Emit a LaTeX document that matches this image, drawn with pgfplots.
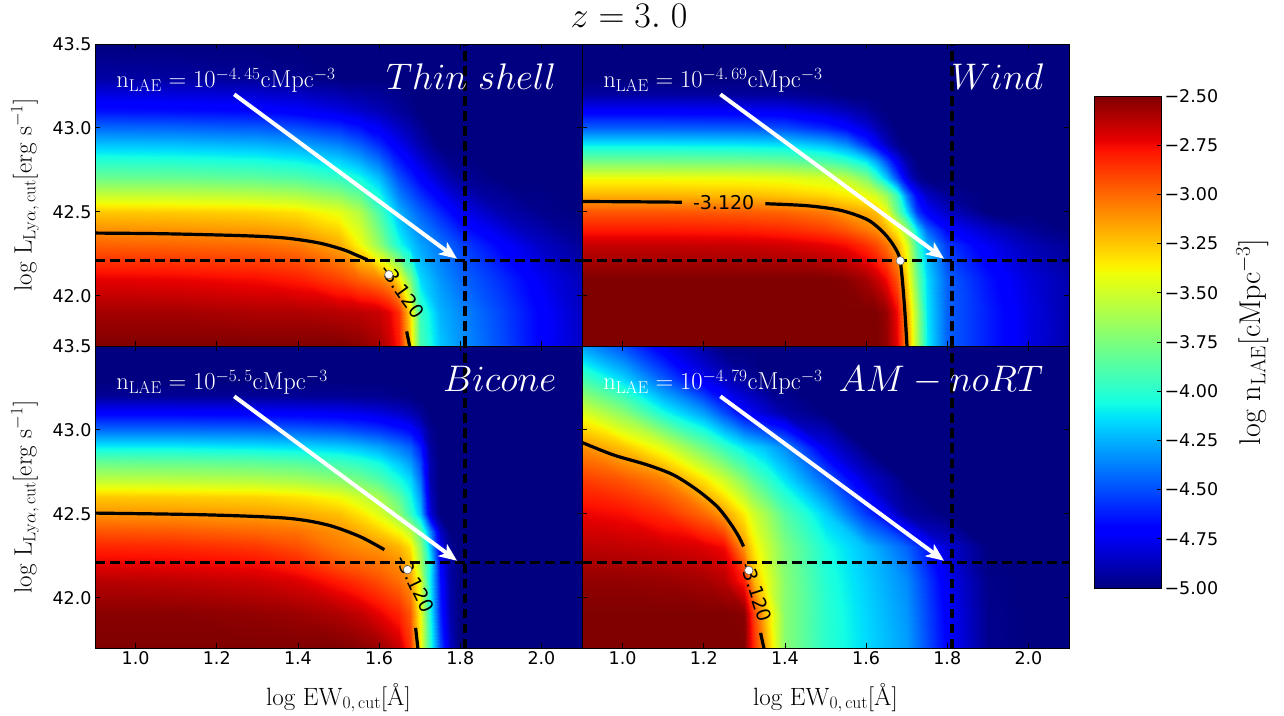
\RequirePackage{fix-cm}
\documentclass[border=0pt]{standalone}
\usepackage{fontspec}
\usepackage{pgfplots}
\pgfplotsset{compat=1.18}
\usetikzlibrary{arrows.meta}
\newfontfamily\dejavu{DejaVu Sans}
\newcommand\tickfont{\dejavu\fontsize{17.5}{20}\selectfont}
\newcommand\labfont{\fontsize{25}{30}\selectfont}
\newcommand\nfont{\fontsize{24.5}{28}\selectfont}
\newcommand\mfont{\fontsize{37}{42}\selectfont}
\newcommand\clfont{\dejavu\fontsize{19}{22}\selectfont}
\pgfplotsset{
  colormap={mpljet}{rgb(0pt)=(0,0,0.5) rgb(22pt)=(0,0,1) rgb(25pt)=(0,0,1) rgb(68pt)=(0,0.86,1) rgb(70pt)=(0,0.9,0.97) rgb(75pt)=(0.08,1,0.89) rgb(128pt)=(0.94,1,0.03) rgb(130pt)=(0.97,0.96,0) rgb(132pt)=(1,0.93,0) rgb(178pt)=(1,0.07,0) rgb(182pt)=(0.91,0,0) rgb(200pt)=(0.5,0,0)},
  mypanel/.style={
    anchor=south west, scale only axis, width=487pt, height=302pt,
    xmin=0.9, xmax=2.1, ymin=41.7, ymax=43.5,
    point meta min=-5, point meta max=-2.5,
    axis on top, tick align=inside, major tick length=5pt,
    tick style={black, line width=0.8pt},
    axis line style={line width=0.9pt},
    xtick={1.0,1.2,1.4,1.6,1.8,2.0}, ytick={42.0,42.5,43.0,43.5},
    xticklabels={1.0,1.2,1.4,1.6,1.8,2.0}, yticklabels={42.0,42.5,43.0,43.5},
    tick label style={font=\tickfont},
    every axis x label/.style={at={(axis description cs:0.5,-0.189)}, anchor=base, font=\labfont},
    every axis y label/.style={at={(axis description cs:-0.144,0.5)}, rotate=90, anchor=center, font=\labfont},
    xlabel={$\mathrm{log\ EW_{0,\,cut}}[\mbox{Å}]$},
    ylabel={$\mathrm{log\ L_{Ly\alpha,\,cut}[erg\ s^{-1}]}$},
  },
  myheat/.style={surf, shader=interp, point meta=explicit, mesh/cols=#1},
  mycont/.style={black, line width=3.2pt, smooth},
  mydash/.style={black, line width=3.4pt, dash pattern=on 9.5pt off 5.5pt},
  myarr/.style={white, line width=4pt, -{Stealth[length=18pt,width=15pt,inset=5pt]}},
  mydot/.style={only marks, mark=*, mark size=4.2pt, mark options={fill=white, draw=black!60, line width=0.6pt}},
}
\begin{document}
\begin{tikzpicture}
\useasboundingbox (0,0) rectangle (1284pt,715pt);
\node[anchor=base, font=\fontsize{36}{40}\selectfont, inner sep=0pt] at (629pt,687pt) {$z=3.\;0$};

% ---------------- Thin shell ----------------
\begin{axis}[mypanel, at={(95pt,369pt)}, xticklabels={}, xlabel={}]
\addplot[myheat=16] table[row sep=\\, x=x, y=y, meta=v] {
x y v\\
0.9 41.7 -2.50\\1.1 41.7 -2.50\\1.3 41.7 -2.50\\1.4 41.7 -2.50\\1.5 41.7 -2.50\\1.55 41.7 -2.52\\1.6 41.7 -2.58\\1.625 41.7 -2.66\\1.65 41.7 -2.80\\1.675 41.7 -3.25\\1.7 41.7 -3.90\\1.75 41.7 -4.20\\1.8 41.7 -4.32\\1.9 41.7 -4.50\\2.0 41.7 -4.70\\2.1 41.7 -4.85\\
0.9 41.9 -2.58\\1.1 41.9 -2.58\\1.3 41.9 -2.60\\1.4 41.9 -2.60\\1.5 41.9 -2.62\\1.55 41.9 -2.63\\1.6 41.9 -2.66\\1.625 41.9 -2.72\\1.65 41.9 -2.85\\1.675 41.9 -3.30\\1.7 41.9 -3.95\\1.75 41.9 -4.25\\1.8 41.9 -4.35\\1.9 41.9 -4.52\\2.0 41.9 -4.70\\2.1 41.9 -4.86\\
0.9 42.1 -2.72\\1.1 42.1 -2.73\\1.3 42.1 -2.76\\1.4 42.1 -2.80\\1.5 42.1 -2.90\\1.55 42.1 -2.98\\1.6 42.1 -3.06\\1.625 42.1 -3.14\\1.65 42.1 -3.35\\1.675 42.1 -3.75\\1.7 42.1 -4.15\\1.75 42.1 -4.32\\1.8 42.1 -4.43\\1.9 42.1 -4.58\\2.0 42.1 -4.75\\2.1 42.1 -4.88\\
0.9 42.3 -2.98\\1.1 42.3 -2.99\\1.3 42.3 -3.01\\1.4 42.3 -3.05\\1.5 42.3 -3.17\\1.55 42.3 -3.38\\1.6 42.3 -3.68\\1.625 42.3 -3.88\\1.65 42.3 -4.05\\1.675 42.3 -4.18\\1.7 42.3 -4.28\\1.75 42.3 -4.40\\1.8 42.3 -4.52\\1.9 42.3 -4.70\\2.0 42.3 -4.85\\2.1 42.3 -4.95\\
0.9 42.5 -3.25\\1.1 42.5 -3.26\\1.3 42.5 -3.28\\1.4 42.5 -3.32\\1.5 42.5 -3.43\\1.55 42.5 -3.58\\1.6 42.5 -3.90\\1.625 42.5 -4.08\\1.65 42.5 -4.25\\1.675 42.5 -4.36\\1.7 42.5 -4.45\\1.75 42.5 -4.60\\1.8 42.5 -4.75\\1.9 42.5 -4.90\\2.0 42.5 -4.97\\2.1 42.5 -5.00\\
0.9 42.7 -3.80\\1.1 42.7 -3.81\\1.3 42.7 -3.84\\1.4 42.7 -3.88\\1.5 42.7 -3.97\\1.55 42.7 -4.06\\1.6 42.7 -4.22\\1.625 42.7 -4.36\\1.65 42.7 -4.50\\1.675 42.7 -4.60\\1.7 42.7 -4.70\\1.75 42.7 -4.85\\1.8 42.7 -4.95\\1.9 42.7 -5.00\\2.0 42.7 -5.00\\2.1 42.7 -5.00\\
0.9 42.9 -4.20\\1.1 42.9 -4.21\\1.3 42.9 -4.24\\1.4 42.9 -4.28\\1.5 42.9 -4.36\\1.55 42.9 -4.45\\1.6 42.9 -4.58\\1.625 42.9 -4.67\\1.65 42.9 -4.75\\1.675 42.9 -4.83\\1.7 42.9 -4.90\\1.75 42.9 -5.00\\1.8 42.9 -5.00\\1.9 42.9 -5.00\\2.0 42.9 -5.00\\2.1 42.9 -5.00\\
0.9 43.1 -4.65\\1.1 43.1 -4.66\\1.3 43.1 -4.68\\1.4 43.1 -4.72\\1.5 43.1 -4.78\\1.55 43.1 -4.83\\1.6 43.1 -4.88\\1.625 43.1 -4.91\\1.65 43.1 -4.94\\1.675 43.1 -4.97\\1.7 43.1 -5.00\\1.75 43.1 -5.00\\1.8 43.1 -5.00\\1.9 43.1 -5.00\\2.0 43.1 -5.00\\2.1 43.1 -5.00\\
0.9 43.3 -4.92\\1.1 43.3 -4.93\\1.3 43.3 -4.95\\1.4 43.3 -4.97\\1.5 43.3 -5.00\\1.55 43.3 -5.00\\1.6 43.3 -5.00\\1.625 43.3 -5.00\\1.65 43.3 -5.00\\1.675 43.3 -5.00\\1.7 43.3 -5.00\\1.75 43.3 -5.00\\1.8 43.3 -5.00\\1.9 43.3 -5.00\\2.0 43.3 -5.00\\2.1 43.3 -5.00\\
0.9 43.5 -5.00\\1.1 43.5 -5.00\\1.3 43.5 -5.00\\1.4 43.5 -5.00\\1.5 43.5 -5.00\\1.55 43.5 -5.00\\1.6 43.5 -5.00\\1.625 43.5 -5.00\\1.65 43.5 -5.00\\1.675 43.5 -5.00\\1.7 43.5 -5.00\\1.75 43.5 -5.00\\1.8 43.5 -5.00\\1.9 43.5 -5.00\\2.0 43.5 -5.00\\2.1 43.5 -5.00\\
};
\addplot[mycont] coordinates {(0.9,42.373) (1.069,42.369) (1.27,42.357) (1.371,42.343) (1.452,42.314) (1.512,42.274) (1.542,42.244) (1.571,42.214)};
\addplot[mycont] coordinates {(1.668,41.787) (1.676,41.69)};
\node[font=\clfont, rotate=-54, inner sep=0pt] at (axis cs:1.658,42.027) {-3.120};
\addplot[mydash] coordinates {(0.9,42.21) (2.1,42.21)};
\addplot[mydash] coordinates {(1.812,41.7) (1.812,43.5)};
\addplot[mydot] coordinates {(1.624,42.125)};
\addplot[myarr] coordinates {(1.243,43.2) (1.792,42.22)};
\node[white, anchor=base west, font=\nfont, inner sep=0pt] at (axis cs:0.952,43.238) {$\mathrm{n_{LAE}=10^{-4.\,45}cMpc^{-3}}$};
\node[white, anchor=base east, font=\mfont, inner sep=0pt] at (axis cs:2.037,43.226) {$Thin\ shell$};
\end{axis}

% ---------------- Wind ----------------
\begin{axis}[mypanel, at={(582pt,369pt)}, xticklabels={}, xlabel={}, yticklabels={}, ylabel={}]
\addplot[myheat=17] table[row sep=\\, x=x, y=y, meta=v] {
x y v\\
0.9 41.7 -2.50\\1.1 41.7 -2.50\\1.3 41.7 -2.50\\1.4 41.7 -2.50\\1.5 41.7 -2.50\\1.55 41.7 -2.50\\1.6 41.7 -2.50\\1.625 41.7 -2.50\\1.65 41.7 -2.54\\1.675 41.7 -2.72\\1.7 41.7 -3.10\\1.725 41.7 -3.62\\1.75 41.7 -4.10\\1.8 41.7 -4.45\\1.9 41.7 -4.62\\2.0 41.7 -4.78\\2.1 41.7 -4.90\\
0.9 41.9 -2.50\\1.1 41.9 -2.50\\1.3 41.9 -2.50\\1.4 41.9 -2.50\\1.5 41.9 -2.50\\1.55 41.9 -2.50\\1.6 41.9 -2.50\\1.625 41.9 -2.50\\1.65 41.9 -2.55\\1.675 41.9 -2.75\\1.7 41.9 -3.15\\1.725 41.9 -3.65\\1.75 41.9 -4.12\\1.8 41.9 -4.45\\1.9 41.9 -4.62\\2.0 41.9 -4.78\\2.1 41.9 -4.90\\
0.9 42.1 -2.50\\1.1 42.1 -2.50\\1.3 42.1 -2.50\\1.4 42.1 -2.50\\1.5 42.1 -2.50\\1.55 42.1 -2.52\\1.6 42.1 -2.58\\1.625 42.1 -2.65\\1.65 42.1 -2.75\\1.675 42.1 -2.95\\1.7 42.1 -3.30\\1.725 42.1 -3.80\\1.75 42.1 -4.15\\1.8 42.1 -4.45\\1.9 42.1 -4.65\\2.0 42.1 -4.80\\2.1 42.1 -4.90\\
0.9 42.3 -2.65\\1.1 42.3 -2.65\\1.3 42.3 -2.66\\1.4 42.3 -2.68\\1.5 42.3 -2.72\\1.55 42.3 -2.76\\1.6 42.3 -2.85\\1.625 42.3 -2.92\\1.65 42.3 -3.02\\1.675 42.3 -3.18\\1.7 42.3 -3.45\\1.725 42.3 -3.95\\1.75 42.3 -4.25\\1.8 42.3 -4.55\\1.9 42.3 -4.75\\2.0 42.3 -4.88\\2.1 42.3 -4.95\\
0.9 42.4 -2.80\\1.1 42.4 -2.80\\1.3 42.4 -2.81\\1.4 42.4 -2.84\\1.5 42.4 -2.90\\1.55 42.4 -2.96\\1.6 42.4 -3.05\\1.625 42.4 -3.10\\1.65 42.4 -3.20\\1.675 42.4 -3.38\\1.7 42.4 -3.70\\1.725 42.4 -4.15\\1.75 42.4 -4.45\\1.8 42.4 -4.70\\1.9 42.4 -4.85\\2.0 42.4 -4.95\\2.1 42.4 -5.00\\
0.9 42.5 -2.95\\1.1 42.5 -2.95\\1.3 42.5 -2.97\\1.4 42.5 -2.99\\1.5 42.5 -3.05\\1.55 42.5 -3.13\\1.6 42.5 -3.18\\1.625 42.5 -3.22\\1.65 42.5 -3.40\\1.675 42.5 -3.80\\1.7 42.5 -4.15\\1.725 42.5 -4.55\\1.75 42.5 -4.72\\1.8 42.5 -4.85\\1.9 42.5 -5.00\\2.0 42.5 -5.00\\2.1 42.5 -5.00\\
0.9 42.6 -3.20\\1.1 42.6 -3.20\\1.3 42.6 -3.22\\1.4 42.6 -3.25\\1.5 42.6 -3.30\\1.55 42.6 -3.35\\1.6 42.6 -3.42\\1.625 42.6 -3.50\\1.65 42.6 -3.65\\1.675 42.6 -3.95\\1.7 42.6 -4.40\\1.725 42.6 -4.70\\1.75 42.6 -4.85\\1.8 42.6 -4.95\\1.9 42.6 -5.00\\2.0 42.6 -5.00\\2.1 42.6 -5.00\\
0.9 42.7 -3.40\\1.1 42.7 -3.40\\1.3 42.7 -3.41\\1.4 42.7 -3.43\\1.5 42.7 -3.48\\1.55 42.7 -3.55\\1.6 42.7 -3.73\\1.625 42.7 -3.95\\1.65 42.7 -4.18\\1.675 42.7 -4.50\\1.7 42.7 -4.80\\1.725 42.7 -4.95\\1.75 42.7 -5.00\\1.8 42.7 -5.00\\1.9 42.7 -5.00\\2.0 42.7 -5.00\\2.1 42.7 -5.00\\
0.9 42.8 -3.78\\1.1 42.8 -3.78\\1.3 42.8 -3.79\\1.4 42.8 -3.82\\1.5 42.8 -3.90\\1.55 42.8 -3.98\\1.6 42.8 -4.12\\1.625 42.8 -4.28\\1.65 42.8 -4.50\\1.675 42.8 -4.75\\1.7 42.8 -4.92\\1.725 42.8 -5.00\\1.75 42.8 -5.00\\1.8 42.8 -5.00\\1.9 42.8 -5.00\\2.0 42.8 -5.00\\2.1 42.8 -5.00\\
0.9 42.9 -4.10\\1.1 42.9 -4.10\\1.3 42.9 -4.11\\1.4 42.9 -4.13\\1.5 42.9 -4.22\\1.55 42.9 -4.32\\1.6 42.9 -4.55\\1.625 42.9 -4.70\\1.65 42.9 -4.85\\1.675 42.9 -4.96\\1.7 42.9 -5.00\\1.725 42.9 -5.00\\1.75 42.9 -5.00\\1.8 42.9 -5.00\\1.9 42.9 -5.00\\2.0 42.9 -5.00\\2.1 42.9 -5.00\\
0.9 43.0 -4.45\\1.1 43.0 -4.45\\1.3 43.0 -4.46\\1.4 43.0 -4.50\\1.5 43.0 -4.60\\1.55 43.0 -4.68\\1.6 43.0 -4.80\\1.625 43.0 -4.88\\1.65 43.0 -4.95\\1.675 43.0 -5.00\\1.7 43.0 -5.00\\1.725 43.0 -5.00\\1.75 43.0 -5.00\\1.8 43.0 -5.00\\1.9 43.0 -5.00\\2.0 43.0 -5.00\\2.1 43.0 -5.00\\
0.9 43.1 -4.72\\1.1 43.1 -4.72\\1.3 43.1 -4.73\\1.4 43.1 -4.75\\1.5 43.1 -4.82\\1.55 43.1 -4.87\\1.6 43.1 -4.93\\1.625 43.1 -4.97\\1.65 43.1 -5.00\\1.675 43.1 -5.00\\1.7 43.1 -5.00\\1.725 43.1 -5.00\\1.75 43.1 -5.00\\1.8 43.1 -5.00\\1.9 43.1 -5.00\\2.0 43.1 -5.00\\2.1 43.1 -5.00\\
0.9 43.2 -4.93\\1.1 43.2 -4.93\\1.3 43.2 -4.94\\1.4 43.2 -4.95\\1.5 43.2 -4.98\\1.55 43.2 -5.00\\1.6 43.2 -5.00\\1.625 43.2 -5.00\\1.65 43.2 -5.00\\1.675 43.2 -5.00\\1.7 43.2 -5.00\\1.725 43.2 -5.00\\1.75 43.2 -5.00\\1.8 43.2 -5.00\\1.9 43.2 -5.00\\2.0 43.2 -5.00\\2.1 43.2 -5.00\\
0.9 43.3 -5.00\\1.1 43.3 -5.00\\1.3 43.3 -5.00\\1.4 43.3 -5.00\\1.5 43.3 -5.00\\1.55 43.3 -5.00\\1.6 43.3 -5.00\\1.625 43.3 -5.00\\1.65 43.3 -5.00\\1.675 43.3 -5.00\\1.7 43.3 -5.00\\1.725 43.3 -5.00\\1.75 43.3 -5.00\\1.8 43.3 -5.00\\1.9 43.3 -5.00\\2.0 43.3 -5.00\\2.1 43.3 -5.00\\
0.9 43.5 -5.00\\1.1 43.5 -5.00\\1.3 43.5 -5.00\\1.4 43.5 -5.00\\1.5 43.5 -5.00\\1.55 43.5 -5.00\\1.6 43.5 -5.00\\1.625 43.5 -5.00\\1.65 43.5 -5.00\\1.675 43.5 -5.00\\1.7 43.5 -5.00\\1.725 43.5 -5.00\\1.75 43.5 -5.00\\1.8 43.5 -5.00\\1.9 43.5 -5.00\\2.0 43.5 -5.00\\2.1 43.5 -5.00\\
};
\addplot[mycont] coordinates {(0.9,42.561) (1.0,42.560) (1.146,42.557)};
\addplot[mycont] coordinates {(1.352,42.548) (1.455,42.536) (1.538,42.508) (1.604,42.452) (1.644,42.373) (1.669,42.294) (1.684,42.208) (1.694,41.957) (1.701,41.69)};
\node[font=\clfont, inner sep=0pt] at (axis cs:1.249,42.556) {-3.120};
\addplot[mydash] coordinates {(0.9,42.21) (2.1,42.21)};
\addplot[mydash] coordinates {(1.812,41.7) (1.812,43.5)};
\addplot[mydot] coordinates {(1.684,42.208)};
\addplot[myarr] coordinates {(1.241,43.2) (1.792,42.22)};
\node[white, anchor=base west, font=\nfont, inner sep=0pt] at (axis cs:0.952,43.238) {$\mathrm{n_{LAE}=10^{-4.\,69}cMpc^{-3}}$};
\node[white, anchor=base east, font=\mfont, inner sep=0pt] at (axis cs:2.037,43.226) {$Wind$};
\end{axis}

% ---------------- Bicone ----------------
\begin{axis}[mypanel, at={(95pt,67pt)}]
\addplot[myheat=15] table[row sep=\\, x=x, y=y, meta=v] {
x y v\\
0.9 41.7 -2.50\\1.1 41.7 -2.50\\1.3 41.7 -2.50\\1.4 41.7 -2.50\\1.5 41.7 -2.50\\1.55 41.7 -2.52\\1.6 41.7 -2.55\\1.65 41.7 -2.65\\1.675 41.7 -2.85\\1.7 41.7 -3.35\\1.725 41.7 -4.00\\1.75 41.7 -4.50\\1.775 41.7 -4.85\\1.8 41.7 -5.00\\2.1 41.7 -5.00\\
0.9 41.9 -2.52\\1.1 41.9 -2.52\\1.3 41.9 -2.54\\1.4 41.9 -2.56\\1.5 41.9 -2.60\\1.55 41.9 -2.64\\1.6 41.9 -2.72\\1.65 41.9 -2.82\\1.675 41.9 -2.95\\1.7 41.9 -3.38\\1.725 41.9 -4.05\\1.75 41.9 -4.60\\1.775 41.9 -4.90\\1.8 41.9 -5.00\\2.1 41.9 -5.00\\
0.9 42.1 -2.62\\1.1 42.1 -2.63\\1.3 42.1 -2.66\\1.4 42.1 -2.70\\1.5 42.1 -2.80\\1.55 42.1 -2.86\\1.6 42.1 -2.93\\1.65 42.1 -3.02\\1.675 42.1 -3.12\\1.7 42.1 -3.45\\1.725 42.1 -4.10\\1.75 42.1 -4.65\\1.775 42.1 -4.92\\1.8 42.1 -5.00\\2.1 42.1 -5.00\\
0.9 42.2 -2.72\\1.1 42.2 -2.73\\1.3 42.2 -2.76\\1.4 42.2 -2.82\\1.5 42.2 -2.95\\1.55 42.2 -2.99\\1.6 42.2 -3.03\\1.65 42.2 -3.10\\1.675 42.2 -3.22\\1.7 42.2 -3.60\\1.725 42.2 -4.08\\1.75 42.2 -4.70\\1.775 42.2 -4.92\\1.8 42.2 -5.00\\2.1 42.2 -5.00\\
0.9 42.3 -2.82\\1.1 42.3 -2.83\\1.3 42.3 -2.87\\1.4 42.3 -2.93\\1.5 42.3 -3.05\\1.55 42.3 -3.09\\1.6 42.3 -3.12\\1.65 42.3 -3.20\\1.675 42.3 -3.32\\1.7 42.3 -3.68\\1.725 42.3 -4.20\\1.75 42.3 -4.75\\1.775 42.3 -4.95\\1.8 42.3 -5.00\\2.1 42.3 -5.00\\
0.9 42.4 -2.95\\1.1 42.4 -2.96\\1.3 42.4 -3.00\\1.4 42.4 -3.03\\1.5 42.4 -3.11\\1.55 42.4 -3.18\\1.6 42.4 -3.27\\1.65 42.4 -3.40\\1.675 42.4 -3.55\\1.7 42.4 -3.85\\1.725 42.4 -4.35\\1.75 42.4 -4.85\\1.775 42.4 -5.00\\1.8 42.4 -5.00\\2.1 42.4 -5.00\\
0.9 42.5 -3.11\\1.1 42.5 -3.12\\1.3 42.5 -3.14\\1.4 42.5 -3.17\\1.5 42.5 -3.23\\1.55 42.5 -3.32\\1.6 42.5 -3.45\\1.65 42.5 -3.70\\1.675 42.5 -3.95\\1.7 42.5 -4.20\\1.725 42.5 -4.80\\1.75 42.5 -5.00\\1.775 42.5 -5.00\\1.8 42.5 -5.00\\2.1 42.5 -5.00\\
0.9 42.6 -3.25\\1.1 42.6 -3.26\\1.3 42.6 -3.28\\1.4 42.6 -3.32\\1.5 42.6 -3.40\\1.55 42.6 -3.50\\1.6 42.6 -3.62\\1.65 42.6 -3.85\\1.675 42.6 -4.05\\1.7 42.6 -4.30\\1.725 42.6 -4.85\\1.75 42.6 -5.00\\1.775 42.6 -5.00\\1.8 42.6 -5.00\\2.1 42.6 -5.00\\
0.9 42.7 -3.55\\1.1 42.7 -3.56\\1.3 42.7 -3.58\\1.4 42.7 -3.62\\1.5 42.7 -3.70\\1.55 42.7 -3.77\\1.6 42.7 -3.88\\1.65 42.7 -4.05\\1.675 42.7 -4.15\\1.7 42.7 -4.40\\1.725 42.7 -4.90\\1.75 42.7 -5.00\\1.775 42.7 -5.00\\1.8 42.7 -5.00\\2.1 42.7 -5.00\\
0.9 42.8 -3.80\\1.1 42.8 -3.81\\1.3 42.8 -3.83\\1.4 42.8 -3.86\\1.5 42.8 -3.93\\1.55 42.8 -3.98\\1.6 42.8 -4.06\\1.65 42.8 -4.20\\1.675 42.8 -4.30\\1.7 42.8 -4.50\\1.725 42.8 -4.90\\1.75 42.8 -5.00\\1.775 42.8 -5.00\\1.8 42.8 -5.00\\2.1 42.8 -5.00\\
0.9 42.9 -4.10\\1.1 42.9 -4.10\\1.3 42.9 -4.12\\1.4 42.9 -4.14\\1.5 42.9 -4.18\\1.55 42.9 -4.22\\1.6 42.9 -4.28\\1.65 42.9 -4.38\\1.675 42.9 -4.45\\1.7 42.9 -4.62\\1.725 42.9 -4.93\\1.75 42.9 -5.00\\1.775 42.9 -5.00\\1.8 42.9 -5.00\\2.1 42.9 -5.00\\
0.9 43.0 -4.42\\1.1 43.0 -4.42\\1.3 43.0 -4.43\\1.4 43.0 -4.45\\1.5 43.0 -4.48\\1.55 43.0 -4.52\\1.6 43.0 -4.56\\1.65 43.0 -4.63\\1.675 43.0 -4.68\\1.7 43.0 -4.80\\1.725 43.0 -4.96\\1.75 43.0 -5.00\\1.775 43.0 -5.00\\1.8 43.0 -5.00\\2.1 43.0 -5.00\\
0.9 43.1 -4.70\\1.1 43.1 -4.70\\1.3 43.1 -4.71\\1.4 43.1 -4.72\\1.5 43.1 -4.74\\1.55 43.1 -4.76\\1.6 43.1 -4.79\\1.65 43.1 -4.84\\1.675 43.1 -4.88\\1.7 43.1 -4.94\\1.725 43.1 -5.00\\1.75 43.1 -5.00\\1.775 43.1 -5.00\\1.8 43.1 -5.00\\2.1 43.1 -5.00\\
0.9 43.2 -4.95\\1.1 43.2 -4.95\\1.3 43.2 -4.95\\1.4 43.2 -4.95\\1.5 43.2 -4.95\\1.55 43.2 -4.96\\1.6 43.2 -4.96\\1.65 43.2 -4.98\\1.675 43.2 -4.99\\1.7 43.2 -5.00\\1.725 43.2 -5.00\\1.75 43.2 -5.00\\1.775 43.2 -5.00\\1.8 43.2 -5.00\\2.1 43.2 -5.00\\
0.9 43.3 -5.00\\1.1 43.3 -5.00\\1.3 43.3 -5.00\\1.4 43.3 -5.00\\1.5 43.3 -5.00\\1.55 43.3 -5.00\\1.6 43.3 -5.00\\1.65 43.3 -5.00\\1.675 43.3 -5.00\\1.7 43.3 -5.00\\1.725 43.3 -5.00\\1.75 43.3 -5.00\\1.775 43.3 -5.00\\1.8 43.3 -5.00\\2.1 43.3 -5.00\\
0.9 43.5 -5.00\\1.1 43.5 -5.00\\1.3 43.5 -5.00\\1.4 43.5 -5.00\\1.5 43.5 -5.00\\1.55 43.5 -5.00\\1.6 43.5 -5.00\\1.65 43.5 -5.00\\1.675 43.5 -5.00\\1.7 43.5 -5.00\\1.725 43.5 -5.00\\1.75 43.5 -5.00\\1.775 43.5 -5.00\\1.8 43.5 -5.00\\2.1 43.5 -5.00\\
};
\addplot[mycont] coordinates {(0.9,42.504) (1.169,42.494) (1.371,42.474) (1.472,42.434) (1.552,42.365) (1.613,42.286)};
\addplot[mycont] coordinates {(1.690,41.82) (1.696,41.69)};
\node[font=\clfont, rotate=-64, inner sep=0pt] at (axis cs:1.690,42.083) {-3.120};
\addplot[mydash] coordinates {(0.9,42.21) (2.1,42.21)};
\addplot[mydash] coordinates {(1.812,41.7) (1.812,43.5)};
\addplot[mydot] coordinates {(1.670,42.167)};
\addplot[myarr] coordinates {(1.243,43.2) (1.792,42.22)};
\node[white, anchor=base west, font=\nfont, inner sep=0pt] at (axis cs:0.952,43.238) {$\mathrm{n_{LAE}=10^{-5.\,5}cMpc^{-3}}$};
\node[white, anchor=base east, font=\mfont, inner sep=0pt] at (axis cs:2.037,43.226) {$Bicone$};
\end{axis}

% ---------------- AM-noRT ----------------
\begin{axis}[mypanel, at={(582pt,67pt)}, yticklabels={}, ylabel={}]
\addplot[myheat=16] table[row sep=\\, x=x, y=y, meta=v] {
x y v\\
0.9 41.7 -2.50\\1.0 41.7 -2.50\\1.1 41.7 -2.50\\1.2 41.7 -2.50\\1.25 41.7 -2.50\\1.3 41.7 -2.50\\1.325 41.7 -2.85\\1.35 41.7 -3.15\\1.4 41.7 -3.72\\1.5 41.7 -4.00\\1.6 41.7 -4.15\\1.7 41.7 -4.30\\1.8 41.7 -4.70\\1.9 41.7 -4.97\\2.0 41.7 -5.00\\2.1 41.7 -5.00\\
0.9 41.9 -2.50\\1.0 41.9 -2.50\\1.1 41.9 -2.50\\1.2 41.9 -2.50\\1.25 41.9 -2.50\\1.3 41.9 -2.52\\1.325 41.9 -2.90\\1.35 41.9 -3.22\\1.4 41.9 -3.72\\1.5 41.9 -4.00\\1.6 41.9 -4.16\\1.7 41.9 -4.32\\1.8 41.9 -4.72\\1.9 41.9 -4.97\\2.0 41.9 -5.00\\2.1 41.9 -5.00\\
0.9 42.1 -2.54\\1.0 42.1 -2.54\\1.1 42.1 -2.55\\1.2 42.1 -2.58\\1.25 42.1 -2.62\\1.3 42.1 -2.80\\1.325 42.1 -3.20\\1.35 42.1 -3.40\\1.4 42.1 -3.72\\1.5 42.1 -4.02\\1.6 42.1 -4.18\\1.7 42.1 -4.35\\1.8 42.1 -4.75\\1.9 42.1 -4.98\\2.0 42.1 -5.00\\2.1 42.1 -5.00\\
0.9 42.3 -2.63\\1.0 42.3 -2.64\\1.1 42.3 -2.66\\1.2 42.3 -2.70\\1.25 42.3 -2.75\\1.3 42.3 -3.13\\1.325 42.3 -3.35\\1.35 42.3 -3.50\\1.4 42.3 -3.75\\1.5 42.3 -4.05\\1.6 42.3 -4.22\\1.7 42.3 -4.45\\1.8 42.3 -4.82\\1.9 42.3 -5.00\\2.0 42.3 -5.00\\2.1 42.3 -5.00\\
0.9 42.5 -2.73\\1.0 42.5 -2.76\\1.1 42.5 -2.84\\1.2 42.5 -3.00\\1.25 42.5 -3.14\\1.3 42.5 -3.35\\1.325 42.5 -3.50\\1.35 42.5 -3.62\\1.4 42.5 -3.87\\1.5 42.5 -4.18\\1.6 42.5 -4.55\\1.7 42.5 -4.93\\1.8 42.5 -5.00\\1.9 42.5 -5.00\\2.0 42.5 -5.00\\2.1 42.5 -5.00\\
0.9 42.7 -2.88\\1.0 42.7 -2.95\\1.1 42.7 -3.06\\1.2 42.7 -3.33\\1.25 42.7 -3.50\\1.3 42.7 -3.72\\1.325 42.7 -3.85\\1.35 42.7 -3.95\\1.4 42.7 -4.13\\1.5 42.7 -4.45\\1.6 42.7 -4.82\\1.7 42.7 -5.00\\1.8 42.7 -5.00\\1.9 42.7 -5.00\\2.0 42.7 -5.00\\2.1 42.7 -5.00\\
0.9 42.9 -3.10\\1.0 42.9 -3.24\\1.1 42.9 -3.45\\1.2 42.9 -3.80\\1.25 42.9 -3.97\\1.3 42.9 -4.12\\1.325 42.9 -4.17\\1.35 42.9 -4.22\\1.4 42.9 -4.35\\1.5 42.9 -4.78\\1.6 42.9 -5.00\\1.7 42.9 -5.00\\1.8 42.9 -5.00\\1.9 42.9 -5.00\\2.0 42.9 -5.00\\2.1 42.9 -5.00\\
0.9 43.1 -3.45\\1.0 43.1 -3.70\\1.1 43.1 -4.05\\1.2 43.1 -4.30\\1.25 43.1 -4.50\\1.3 43.1 -4.70\\1.325 43.1 -4.76\\1.35 43.1 -4.82\\1.4 43.1 -4.92\\1.5 43.1 -5.00\\1.6 43.1 -5.00\\1.7 43.1 -5.00\\1.8 43.1 -5.00\\1.9 43.1 -5.00\\2.0 43.1 -5.00\\2.1 43.1 -5.00\\
0.9 43.3 -3.90\\1.0 43.3 -4.15\\1.1 43.3 -4.45\\1.2 43.3 -4.75\\1.25 43.3 -4.85\\1.3 43.3 -4.93\\1.325 43.3 -4.96\\1.35 43.3 -5.00\\1.4 43.3 -5.00\\1.5 43.3 -5.00\\1.6 43.3 -5.00\\1.7 43.3 -5.00\\1.8 43.3 -5.00\\1.9 43.3 -5.00\\2.0 43.3 -5.00\\2.1 43.3 -5.00\\
0.9 43.5 -4.30\\1.0 43.5 -4.50\\1.1 43.5 -4.75\\1.2 43.5 -4.93\\1.25 43.5 -5.00\\1.3 43.5 -5.00\\1.325 43.5 -5.00\\1.35 43.5 -5.00\\1.4 43.5 -5.00\\1.5 43.5 -5.00\\1.6 43.5 -5.00\\1.7 43.5 -5.00\\1.8 43.5 -5.00\\1.9 43.5 -5.00\\2.0 43.5 -5.00\\2.1 43.5 -5.00\\
};
\addplot[mycont] coordinates {(0.9,42.925) (0.977,42.851) (1.06,42.792) (1.125,42.732) (1.183,42.643) (1.233,42.543) (1.265,42.445) (1.286,42.365) (1.298,42.305)};
\addplot[mycont] coordinates {(1.340,41.79) (1.349,41.69)};
\node[font=\clfont, rotate=-72, inner sep=0pt] at (axis cs:1.33,42.033) {-3.120};
\addplot[mydash] coordinates {(0.9,42.21) (2.1,42.21)};
\addplot[mydash] coordinates {(1.812,41.7) (1.812,43.5)};
\addplot[mydot] coordinates {(1.311,42.163)};
\addplot[myarr] coordinates {(1.241,43.2) (1.792,42.22)};
\node[white, anchor=base west, font=\nfont, inner sep=0pt] at (axis cs:0.952,43.238) {$\mathrm{n_{LAE}=10^{-4.\,79}cMpc^{-3}}$};
\node[white, anchor=base east, font=\mfont, inner sep=0pt] at (axis cs:2.037,43.226) {$AM-noRT$};
\end{axis}

% ---------------- colorbar ----------------
\begin{axis}[anchor=south west, at={(1094pt,127pt)}, scale only axis, width=67pt, height=492pt,
  xmin=0, xmax=1, ymin=-5, ymax=-2.5, xtick=\empty,
  ytick={-5,-4.75,-4.5,-4.25,-4,-3.75,-3.5,-3.25,-3,-2.75,-2.5},
  yticklabels={−5.00,−4.75,−4.50,−4.25,−4.00,−3.75,−3.50,−3.25,−3.00,−2.75,−2.50},
  ytick pos=right, tick align=inside, major tick length=4pt,
  tick style={black, line width=0.8pt},
  tick label style={font=\tickfont},
  point meta min=-5, point meta max=-2.5, axis on top,
  axis line style={line width=0.8pt},
  every axis y label/.style={at={(axis description cs:2.36,0.5)}, rotate=90, anchor=center, font=\fontsize{30}{34}\selectfont},
  ylabel={$\mathrm{log\ n_{LAE}[cMpc^{-3}]}$}]
\addplot[myheat=2] table[row sep=\\, x=x, y=y, meta=v] {
x y v\\
0 -5.00 -5.00\\1 -5.00 -5.00\\
0 -4.75 -4.75\\1 -4.75 -4.75\\
0 -4.50 -4.50\\1 -4.50 -4.50\\
0 -4.25 -4.25\\1 -4.25 -4.25\\
0 -4.00 -4.00\\1 -4.00 -4.00\\
0 -3.75 -3.75\\1 -3.75 -3.75\\
0 -3.50 -3.50\\1 -3.50 -3.50\\
0 -3.25 -3.25\\1 -3.25 -3.25\\
0 -3.00 -3.00\\1 -3.00 -3.00\\
0 -2.75 -2.75\\1 -2.75 -2.75\\
0 -2.50 -2.50\\1 -2.50 -2.50\\
};
\end{axis}
\end{tikzpicture}
\end{document}
